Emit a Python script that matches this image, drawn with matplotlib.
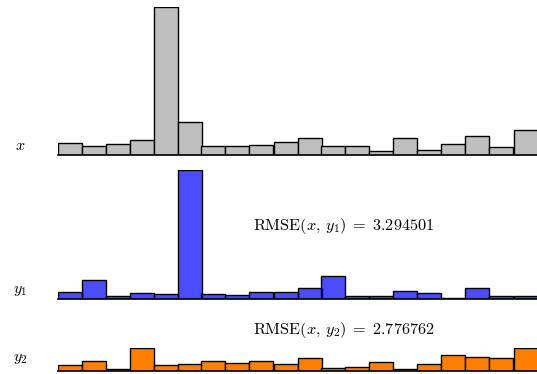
import numpy as np
import matplotlib
matplotlib.use('Agg')
import matplotlib.pyplot as plt

plt.rcParams['mathtext.fontset'] = 'cm'
plt.rcParams['font.family'] = 'serif'
plt.rcParams['font.serif'] = ['DejaVu Serif']

# values
x = [0.83, 0.59, 0.74, 0.99, 10.0, 2.23, 0.59, 0.63, 0.66, 0.90,
     1.15, 0.59, 0.63, 0.25, 1.13, 0.32, 0.74, 1.28, 0.54, 1.71]
y1 = [0.41, 1.22, 0.14, 0.39, 0.27, 8.63, 0.29, 0.25, 0.47, 0.45,
      0.68, 1.49, 0.14, 0.20, 0.49, 0.34, 0.05, 0.74, 0.14, 0.20]
y2 = [0.36, 0.61, 0.07, 1.53, 0.36, 0.45, 0.61, 0.52, 0.63, 0.45,
      0.81, 0.16, 0.25, 0.56, 0.07, 0.45, 1.06, 0.93, 0.81, 1.51]
row_labels = ['$x$', '$y_1$', '$y_2$']
rmse_labels = [r'$\mathrm{RMSE}(x,\,y_1)\;=\;3.294501$',
               r'$\mathrm{RMSE}(x,\,y_2)\;=\;2.776762$']

W, H = 537, 374
fig = plt.figure(figsize=(W / 100, H / 100), dpi=100)

### 每列的位置 (像素)
rows = [
    (x, 155, '#bfbfbf'),
    (y1, 298.5, (0, 0, 1, 0.7)),
    (y2, 370.5, '#ff8000'),
]
scale = 148.5 / max(x)  # px per unit
idx = np.arange(len(x))
for vals, base, color in rows:
    top = base - max(vals) * scale
    ax = fig.add_axes([57.5 / W, (H - base) / H, 480 / W, (base - top) / H])
    ax.bar(idx, vals, width=1.0, align='edge', color=color,
           edgecolor='black', linewidth=1.0)
    ax.set_xlim(0, len(vals))
    ax.set_ylim(0, max(vals))
    for s in ['top', 'right', 'left']:
        ax.spines[s].set_visible(False)
    ax.spines['bottom'].set_linewidth(1.2)
    ax.set_xticks([])
    ax.set_yticks([])

for lab, ypx in zip(row_labels, [145.5, 289, 358]):
    fig.text(20 / W, (H - ypx) / H, lab, fontsize=11.5, ha='center', va='center')

for lab, ypx in zip(rmse_labels, [226.5, 330.5]):
    fig.text(253 / W, (H - ypx) / H, lab, fontsize=11.7, ha='left', va='center')

plt.savefig('out.png', dpi=100)
